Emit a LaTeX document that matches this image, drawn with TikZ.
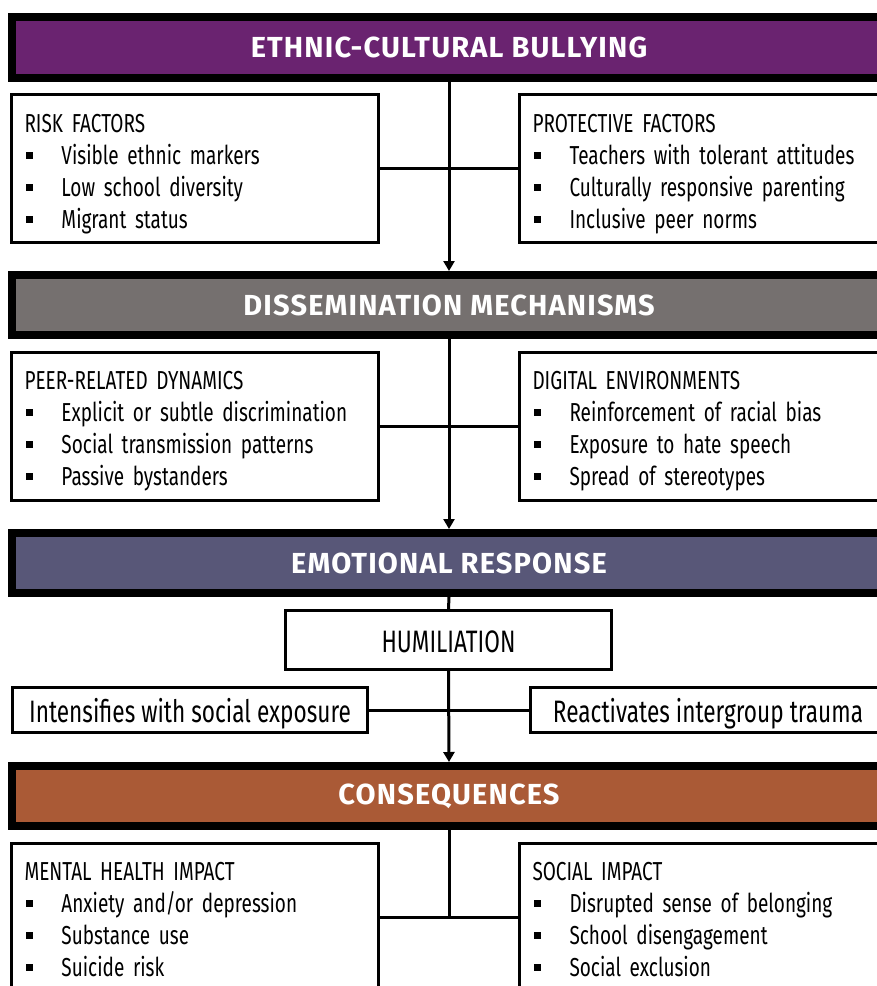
\documentclass[tikz,border=0pt]{standalone}
\usepackage{fontspec}
\setmainfont{Fira Sans}[FakeStretch=0.73]
\newfontfamily\hdfont{Fira Sans}[LetterSpace=4]
\usetikzlibrary{arrows.meta}
\definecolor{cpurple}{HTML}{6A2370}
\definecolor{cgray}{HTML}{75706F}
\definecolor{cnavy}{HTML}{585778}
\definecolor{cbrown}{HTML}{AA5A36}
\newcommand{\bul}{\hspace*{1pt}\rule[5.5pt]{7pt}{7pt}\hspace*{29pt}}
\newcommand{\tstr}{\rule{0pt}{29pt}}
\newcommand{\tstrb}{\rule{0pt}{23pt}}
\begin{document}
\begin{tikzpicture}[x=1pt,y=-1pt,
  header/.style={draw=black, line width=8pt, minimum width=874pt, minimum height=60pt,
    inner sep=0pt, text=white, font=\hdfont\bfseries\fontsize{29}{32}\selectfont},
  box/.style={draw=black, line width=3pt, fill=white, minimum width=367pt, minimum height=148pt,
    inner xsep=13pt, text width=341pt, align=left, font=\fontsize{26}{32}\selectfont},
  sbox/.style={draw=black, line width=3pt, fill=white, inner sep=0pt,
    text height=30pt, text depth=5pt, font=\fontsize{31}{34}\selectfont},
  conn/.style={line width=3pt},
  arr/.style={line width=3pt, -{Triangle[length=10pt,width=11pt]}}]
\clip (0,0) rectangle (877,986);
\useasboundingbox (0,0) rectangle (877,986);

% headers
\node[header, fill=cpurple, minimum height=61pt] (h1) at (449,47.5) {ETHNIC-CULTURAL BULLYING};
\node[header, fill=cgray] (h2) at (449,305) {DISSEMINATION MECHANISMS};
\node[header, fill=cnavy] (h3) at (449,563) {EMOTIONAL RESPONSE};
\node[header, fill=cbrown] (h4) at (449,796) {CONSEQUENCES};

% row 1
\node[box] (risk) at (195,168.5) {\tstr RISK FACTORS\\ \bul Visible ethnic markers\\ \bul Low school diversity\\ \bul Migrant status};
\node[box] (prot) at (703,168.5) {\tstr PROTECTIVE FACTORS\\ \bul Teachers with tolerant attitudes\\ \bul Culturally responsive parenting\\ \bul Inclusive peer norms};

% row 2
\node[box] (peer) at (195,426) {\tstr PEER-RELATED DYNAMICS\\ \bul Explicit or subtle discrimination\\ \bul Social transmission patterns\\ \bul Passive bystanders};
\node[box] (digi) at (703,426) {\tstr DIGITAL ENVIRONMENTS\\ \bul Reinforcement of racial bias\\ \bul Exposure to hate speech\\ \bul Spread of stereotypes};

% row 3
\node[sbox, minimum width=326pt, minimum height=59pt] (hum) at (448.5,640) {HUMILIATION};
\node[sbox, minimum width=355pt, minimum height=45pt] (inten) at (190,710) {Intensifies with social exposure};
\node[sbox, minimum width=355pt, minimum height=45pt] (react) at (708,710) {Reactivates intergroup trauma};

% row 4
\node[box] (ment) at (195,917) {\tstrb MENTAL HEALTH IMPACT\\ \bul Anxiety and/or depression\\ \bul Substance use\\ \bul Suicide risk};
\node[box] (soc) at (703,917) {\tstrb SOCIAL IMPACT\\ \bul Disrupted sense of belonging\\ \bul School disengagement\\ \bul Social exclusion};

% connectors
\draw[conn] (risk.east) -- (prot.west);
\draw[arr] (h1.south) -- (h2.north);
\draw[conn] (peer.east) -- (digi.west);
\draw[arr] (h2.south) -- (h3.north);
\draw[conn] (h3.south) -- (hum.north);
\draw[conn] (inten.east) -- (react.west);
\draw[arr] (hum.south) -- (h4.north);
\draw[conn] (h4.south) -- (h4.south |- ment.east);
\draw[conn] (ment.east) -- (soc.west);
\end{tikzpicture}
\end{document}
